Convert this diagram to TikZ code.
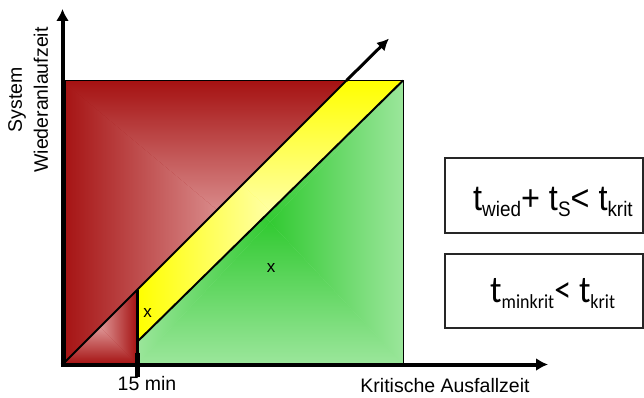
\documentclass[tikz,border=0pt]{standalone}
\usepackage{fontspec}
\usepackage{graphicx}
\setmainfont{Liberation Sans}
\newfontfamily\calib{Carlito}
\usetikzlibrary{arrows.meta,calc}
\definecolor{rededge}{RGB}{165,18,18}
\definecolor{redmid}{RGB}{222,150,150}
\definecolor{grnedge}{RGB}{155,230,155}
\definecolor{grnmid}{RGB}{50,202,50}
\definecolor{yeledge}{RGB}{255,255,0}
\definecolor{yelmid}{RGB}{255,255,165}
\newcommand{\pyramid}[6]{%
  \coordinate (pc) at ($(#1,#2)!0.5!(#3,#4)$);
  \shade[top color=#5,bottom color=#6] (#1,#2) -- (#3,#2) -- (pc) -- cycle;
  \shade[top color=#6,bottom color=#5] (#1,#4) -- (#3,#4) -- (pc) -- cycle;
  \shade[left color=#5,right color=#6] (#1,#2) -- (#1,#4) -- (pc) -- cycle;
  \shade[left color=#6,right color=#5] (#3,#2) -- (#3,#4) -- (pc) -- cycle;
}
\tikzset{
  axis/.style={line width=4pt,-{Latex[length=12pt,width=13pt]}},
  diag/.style={line width=2pt},
  frame/.style={line width=0.8pt},
  eqbox/.style={draw=black!85,line width=1.6pt},
  lbl/.style={font=\fontsize{19.5}{22}\selectfont,inner sep=0pt},
  xmark/.style={font=\fontsize{17}{18}\selectfont,inner sep=0pt}
}
\newcommand{\sub}[1]{\raisebox{-6pt}{\fontsize{21}{22}\selectfont #1}}
\newcommand{\subc}[1]{\raisebox{-6pt}{\fontsize{20}{22}\selectfont #1}}
\begin{document}
\begin{tikzpicture}[x=1pt,y=-1pt]
\useasboundingbox (0,0) rectangle (644,398);
% coordinates
\coordinate (O) at (63,364);
\coordinate (TL) at (65,80.5);
\coordinate (TR) at (403,80.5);
\coordinate (BR) at (403,364);
\coordinate (D1) at (346.5,80.5);
\coordinate (V1) at (137,290);
\coordinate (V2) at (137,342);
\coordinate (VB) at (137,364);
\coordinate (AT) at (389,38.5);
% red big region
\begin{scope}
  \clip (62,80.5) -- (D1) -- (62,365.5) -- cycle;
  \fill[rededge] (62,80.5) rectangle (403,365);
  \pyramid{62}{80.5}{403}{365}{rededge}{redmid}
\end{scope}
% small red triangle
\begin{scope}
  \clip (O) -- (V1) -- (137,365) -- (62,365) -- cycle;
  \fill[rededge] (62,290) rectangle (137,365);
  \pyramid{63}{290}{137}{364}{rededge}{redmid}
\end{scope}
% yellow band
\begin{scope}
  \clip (V1) -- (D1) -- (TR) -- (V2) -- cycle;
  \fill[yeledge] (137,80.5) rectangle (403,342);
  \pyramid{137}{80.5}{403}{342}{yeledge}{yelmid}
\end{scope}
% green region
\begin{scope}
  \clip (V2) -- (TR) -- (BR) -- (VB) -- cycle;
  \fill[grnedge] (137,80.5) rectangle (403,364);
  \pyramid{137}{80.5}{403}{364}{grnedge}{grnmid}
\end{scope}
% outlines
\draw[frame] (65,364) -- (TL) -- (TR) -- (BR);
\draw[diag] (O) -- (D1);
\draw[line width=3pt,-{Latex[length=12pt,width=12pt]}] (D1) -- (AT);
\draw[diag] (V2) -- (TR);
\draw[line width=3pt] (V1) -- (VB);
\draw[line width=5pt] (137,353) -- (137,377);
% axes
\coordinate (YT) at (62.5,9);
\coordinate (XR) at (548,364.5);
\draw[axis] (62.5,366.5) -- (YT);
\draw[axis] (60.5,364.5) -- (XR);
% labels
\node[lbl,rotate=90] (sys) at (17,100) {System};
\node[lbl,rotate=90] (wal) at (41,100) {Wiederanlaufzeit};
\node[lbl] (min) at (147,384) {15 min};
\node[lbl] (kaz) at (445,386) {Kritische Ausfallzeit};
\node[xmark] (x1) at (147.5,313) {x};
\node[xmark] (x2) at (271,268) {x};
% boxes
\draw[eqbox] (445,158) rectangle (643,233);
\draw[eqbox] (445,254) rectangle (643,328);
\node[anchor=base west,inner sep=0pt,font=\fontsize{36}{40}\selectfont] (eq1) at (473,210)
  {\scalebox{0.9}[1]{t\sub{wied}+ t\sub{S}< t\sub{krit}}};
\node[anchor=base west,inner sep=0pt,font=\calib\fontsize{38}{40}\selectfont] (eq2) at (490,302)
  {\scalebox{0.9}[1]{t\subc{minkrit}< t\subc{krit}}};
\end{tikzpicture}
\end{document}
